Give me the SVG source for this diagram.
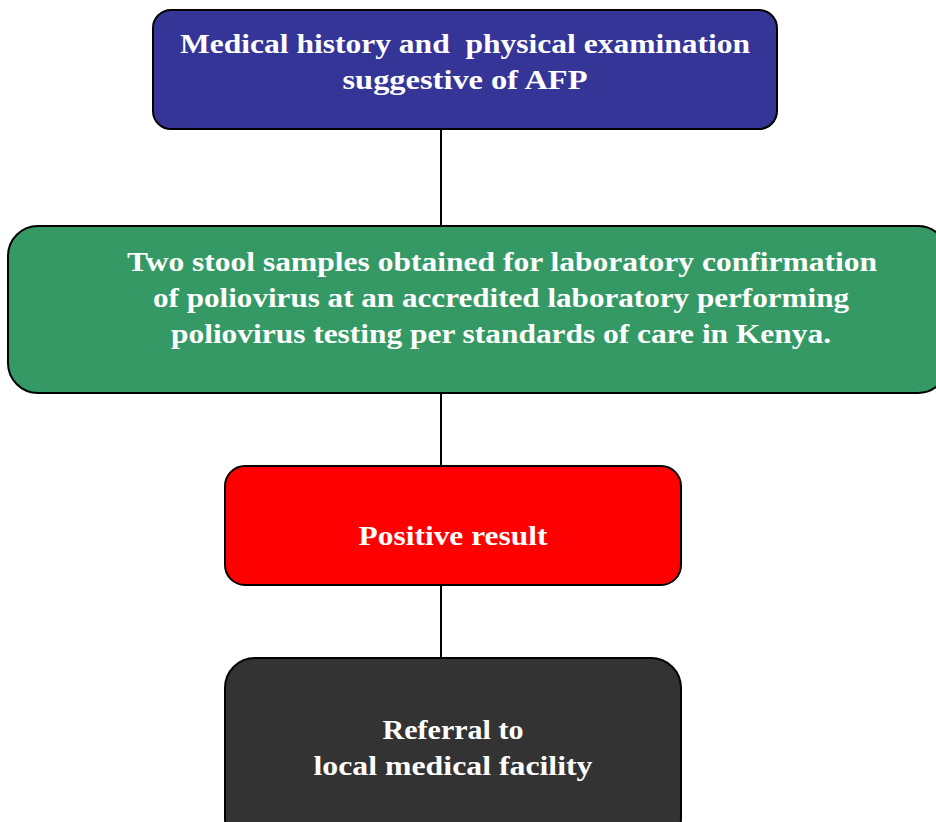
<svg xmlns="http://www.w3.org/2000/svg" width="936" height="822" viewBox="0 0 936 822">
<style>
.box{stroke:#000;stroke-width:2}
.t{font-family:"Liberation Serif","DejaVu Serif",serif;font-weight:bold;font-size:27px;fill:#fff;text-anchor:middle}
.c{stroke:#000;stroke-width:2;fill:none}
</style>
<rect width="936" height="822" fill="#fff"/>
<g id="connectors">
<line class="c" x1="441" y1="129" x2="441" y2="226"/>
<line class="c" x1="441" y1="393" x2="441" y2="466"/>
<line class="c" x1="441" y1="585" x2="441" y2="658"/>
</g>
<g id="n1">
<rect class="box" x="153" y="10" width="624" height="119" rx="18" fill="#353598"/>
<text class="t" x="465" y="53" textLength="570" lengthAdjust="spacingAndGlyphs" style="white-space:pre" xml:space="preserve">Medical history and  physical examination</text>
<text class="t" x="465" y="89" textLength="245" lengthAdjust="spacingAndGlyphs">suggestive of AFP</text>
</g>
<g id="n2">
<rect class="box" x="8" y="226" width="940" height="167" rx="30" fill="#359966"/>
<text class="t" x="502" y="271" textLength="750" lengthAdjust="spacingAndGlyphs">Two stool samples obtained for laboratory confirmation</text>
<text class="t" x="501" y="307" textLength="696" lengthAdjust="spacingAndGlyphs">of poliovirus at an accredited laboratory performing</text>
<text class="t" x="501" y="343" textLength="660" lengthAdjust="spacingAndGlyphs">poliovirus testing per standards of care in Kenya.</text>
</g>
<g id="n3">
<rect class="box" x="225" y="466" width="456" height="119" rx="20" fill="#ff0000"/>
<text class="t" x="453" y="545" textLength="189" lengthAdjust="spacingAndGlyphs">Positive result</text>
</g>
<g id="n4">
<rect class="box" x="225" y="658" width="456" height="190" rx="30" fill="#333333"/>
<text class="t" x="453" y="739" textLength="141" lengthAdjust="spacingAndGlyphs">Referral to</text>
<text class="t" x="453" y="775" textLength="279" lengthAdjust="spacingAndGlyphs">local medical facility</text>
</g>
</svg>
